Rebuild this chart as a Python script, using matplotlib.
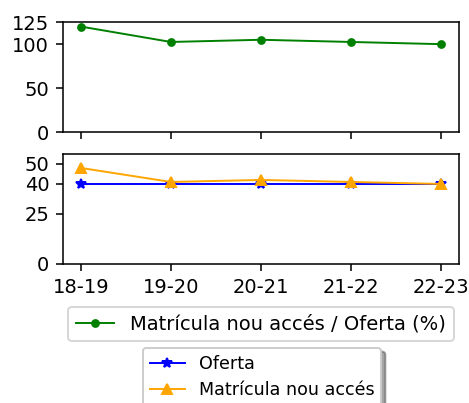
import matplotlib
matplotlib.use("Agg")
import matplotlib.pyplot as plt

cursos = ["18-19", "19-20", "20-21", "21-22", "22-23"]
oferta = [40, 40, 40, 40, 40]
matricula = [48, 41, 42, 41, 40]
ratio = [120, 102.5, 105, 102.5, 100]

DPI = 140
fig = plt.figure(figsize=(469 / DPI, 403 / DPI), dpi=DPI)
ax1 = fig.add_axes([0.134, 0.672, 0.845, 0.273])
ax2 = fig.add_axes([0.134, 0.345, 0.845, 0.273], sharex=ax1)

l1, = ax1.plot(cursos, ratio, color="green", marker="o", markersize=3.5, linewidth=1,
               label="Matrícula nou accés / Oferta (%)")
ax1.set_ylim(0, 125)
ax1.set_yticks([0, 50, 100, 125])
ax1.tick_params(labelbottom=False)

ax2.plot(cursos, oferta, color="blue", marker="*", markersize=5.5, linewidth=1, label="Oferta")
ax2.plot(cursos, matricula, color="orange", marker="^", markersize=5, linewidth=1,
         label="Matrícula nou accés")
ax2.set_ylim(0, 55)
ax2.set_yticks([0, 25, 40, 50])

for ax in (ax1, ax2):
    ax.tick_params(labelsize=10)

fig.legend(handles=[l1], loc="upper center", bbox_to_anchor=(0.556, 0.263),
           fontsize=10)
fig.legend(handles=ax2.get_lines(), loc="upper center", bbox_to_anchor=(0.559, 0.159),
           fontsize=9, shadow=True)

fig.savefig("out.png", dpi=DPI)
